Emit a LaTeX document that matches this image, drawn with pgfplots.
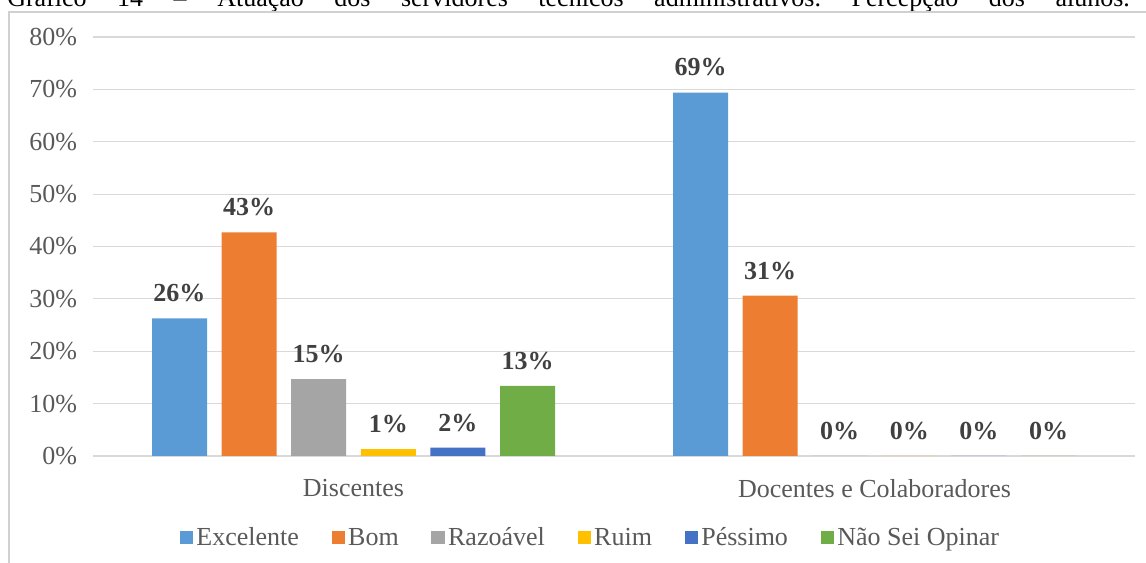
\documentclass[border=0pt]{standalone}
\usepackage{fontspec}
\setmainfont{Liberation Serif}
\usepackage{pgfplots}
\pgfplotsset{compat=1.18}
\definecolor{c1}{HTML}{5B9BD5}
\definecolor{c2}{HTML}{ED7D31}
\definecolor{c3}{HTML}{A5A5A5}
\definecolor{c4}{HTML}{FFC000}
\definecolor{c5}{HTML}{4472C4}
\definecolor{c6}{HTML}{70AD47}
\definecolor{txt}{HTML}{595959}
\definecolor{lab}{HTML}{404040}
\definecolor{grd}{HTML}{D9D9D9}
\newcommand\f{\fontsize{19.5pt}{23pt}\selectfont}
\frenchspacing
\begin{document}
\begin{tikzpicture}[x=1pt,y=1pt]
\path[use as bounding box] (0,0) rectangle (859.5,422.25);
\clip (0,0) rectangle (859.5,422.25);
\node[anchor=base west, inner sep=0pt, font=\f, text=black] at (5.25,417) {\makebox[842pt][s]{Gráfico 14 – Atuação dos servidores técnicos administrativos. Percepção dos alunos.}};
\draw[grd!90!gray, line width=1.2pt] (6.75,-2) -- (6.75,413.25) -- (870,413.25);
\begin{axis}[
  at={(69.75pt,80.25pt)}, anchor=south west,
  scale only axis, width=781.5pt, height=314.25pt,
  ybar=10.95pt, bar width=41.25pt,
  xmin=-0.5, xmax=1.5, ymin=0, ymax=80,
  enlargelimits=false,
  xtick={0,1}, xticklabels={Discentes, Docentes e Colaboradores},
  ytick={0,10,...,80},
  yticklabels={0\%,10\%,20\%,30\%,40\%,50\%,60\%,70\%,80\%},
  axis line style={draw=none},
  major tick length=0pt,
  ymajorgrids, grid style={grd, line width=0.9pt},
  yticklabel style={font=\f, text=txt, xshift=-8.5pt},
  xticklabel style={font=\f, text=txt, yshift=-14pt},
  nodes near coords={\pgfmathprintnumber[fixed,precision=0,assume math mode=true]{\pgfplotspointmeta}\%},
  every node near coord/.append style={anchor=south, yshift=12pt, font=\bfseries\f, text=lab, inner sep=0pt},
  legend columns=-1,
  legend image code/.code={\fill[#1] (0pt,-4pt) rectangle (10pt,6.25pt);},
  legend style={at={(0.478,-0.198)}, anchor=center, draw=none, fill=none, font=\f, text=txt,
    nodes={inner xsep=2.5pt, text height=14pt, text depth=4.5pt},
    /tikz/every even column/.append style={column sep=22pt}},
]
\addplot[fill=c1, draw=none] coordinates {(0,26.3) (1,69.4)};
\addplot[fill=c2, draw=none] coordinates {(0,42.7) (1,30.6)};
\addplot[fill=c3, draw=none] coordinates {(0,14.7) (1,0)};
\addplot[fill=c4, draw=none] coordinates {(0,1.3) (1,0)};
\addplot[fill=c5, draw=none] coordinates {(0,1.6) (1,0)};
\addplot[fill=c6, draw=none] coordinates {(0,13.4) (1,0)};
\legend{Excelente, Bom, Razoável, Ruim, Péssimo, Não Sei Opinar}
\end{axis}
\end{tikzpicture}
\end{document}
